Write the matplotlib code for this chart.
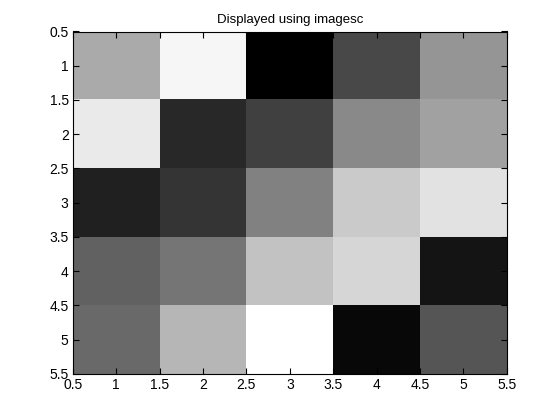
import matplotlib
matplotlib.use('Agg')
import matplotlib.pyplot as plt
import numpy as np

# magic(5) values shown with imagesc / gray colormap
row1 = [17, 24, 1, 8, 15]
row2 = [23, 5, 7, 14, 16]
row3 = [4, 6, 13, 20, 22]
row4 = [10, 12, 19, 21, 3]
row5 = [11, 18, 25, 2, 9]
ticks = [0.5, 1, 1.5, 2, 2.5, 3, 3.5, 4, 4.5, 5, 5.5]
tick_labels = ['0.5', '1', '1.5', '2', '2.5', '3', '3.5', '4', '4.5', '5', '5.5']

data = np.array([row1, row2, row3, row4, row5])

plt.rcParams['font.family'] = ['Liberation Sans', 'DejaVu Sans']

fig = plt.figure(figsize=(5.6, 4.2), dpi=100)
ax = fig.add_axes([0.13, 0.11, 0.775, 0.815])

ax.imshow(data, cmap=plt.get_cmap('gray', 64), aspect='auto',
          extent=(0.5, 5.5, 5.5, 0.5), interpolation='nearest')

ax.set_xlim(0.5, 5.5)
ax.set_ylim(5.5, 0.5)
ax.set_xticks(ticks)
ax.set_xticklabels(tick_labels)
ax.set_yticks(ticks)
ax.set_yticklabels(tick_labels)
ax.tick_params(direction='in', top=True, right=True, length=4, width=0.8,
               labelsize=10, pad=3)
for s in ax.spines.values():
    s.set_linewidth(0.8)

ax.set_title('Displayed using imagesc', fontsize=9.5, pad=6)

fig.savefig('out.png', dpi=100)
